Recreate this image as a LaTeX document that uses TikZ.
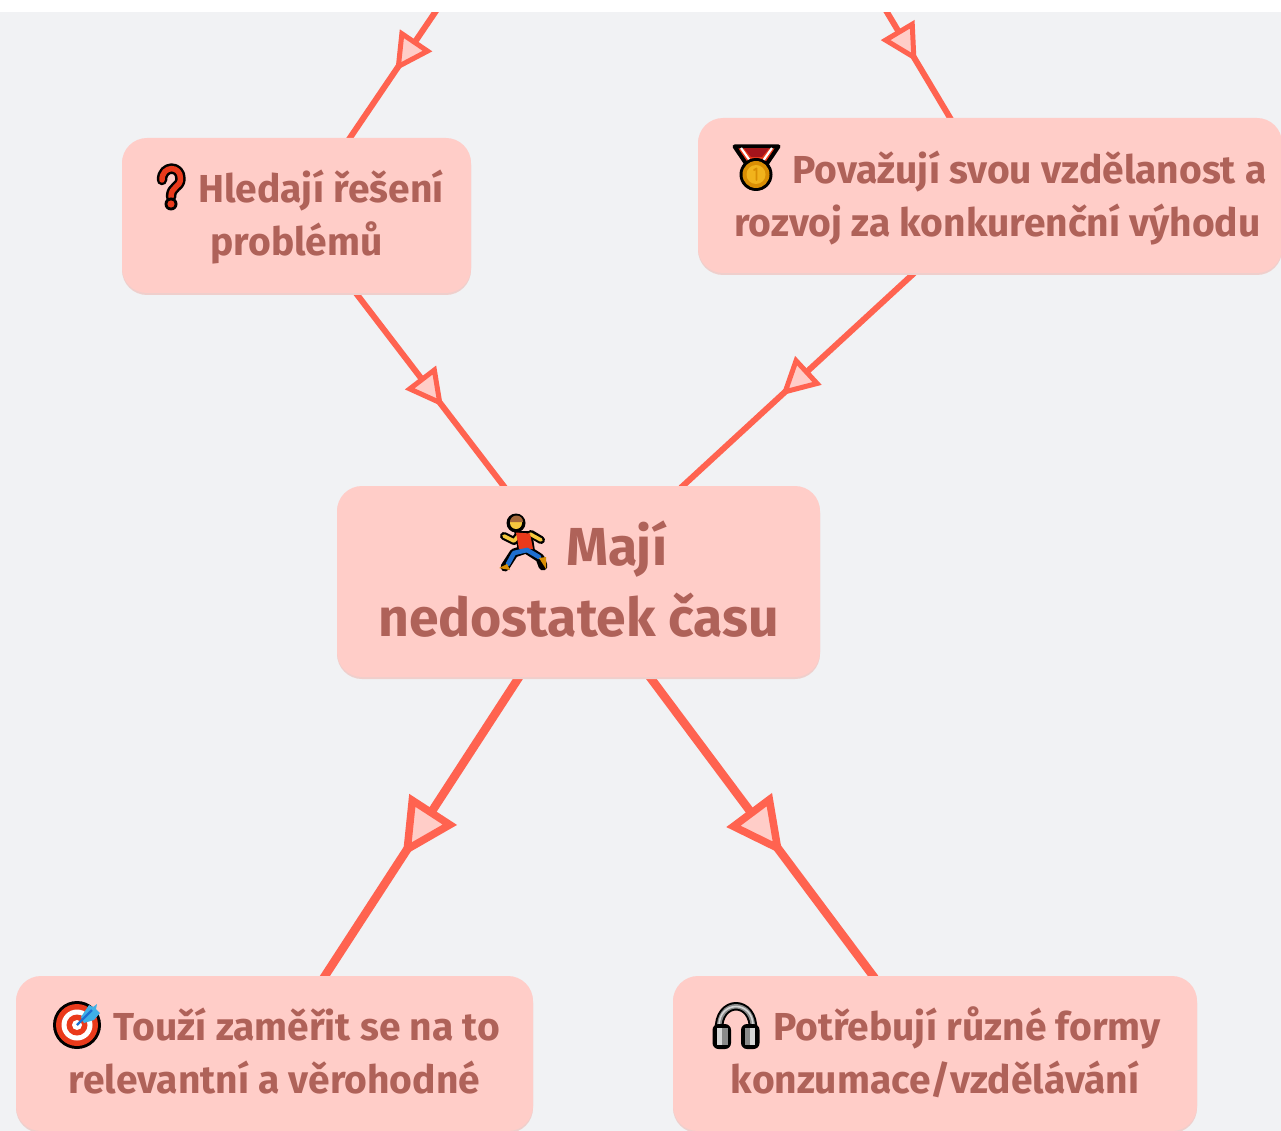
\documentclass[tikz,border=0pt]{standalone}
\usepackage{fontspec}
\setmainfont{Fira Sans}
\usetikzlibrary{arrows.meta,decorations.markings,shadows,calc}
\pgfdeclarelayer{bg}
\pgfsetlayers{bg,main}
\definecolor{bgc}{HTML}{F1F2F4}
\definecolor{boxc}{HTML}{FFCDC8}
\definecolor{linec}{HTML}{FF6350}
\definecolor{txtc}{HTML}{AF6259}
\definecolor{shc}{HTML}{EFCFCC}
\definecolor{emred}{HTML}{EA3A1B}
\definecolor{emdark}{HTML}{A5141B}
\definecolor{emgold}{HTML}{F1B31C}
\definecolor{emamber}{HTML}{D98E04}
\definecolor{emblue}{HTML}{1E6FD0}
\definecolor{emsky}{HTML}{3FB0E6}
\definecolor{emskin}{HTML}{F6C83E}
\definecolor{emhair}{HTML}{A5683A}
\definecolor{emgrey}{HTML}{8A8A8A}
\definecolor{emlight}{HTML}{D6D6D6}
\newcommand{\topstrut}[1]{\rule{0pt}{#1pt}}
\newcommand{\botstrut}[1]{\rule[-#1pt]{0pt}{#1pt}}
\tikzset{
 box/.style={fill=boxc,rounded corners=25pt,text=txtc,align=center,font=\bfseries\fontsize{39}{53}\selectfont,inner sep=0pt,
   copy shadow={shadow xshift=0pt,shadow yshift=-2pt,fill=shc,draw=none}},
 bigbox/.style={box,font=\bfseries\fontsize{53.5}{71}\selectfont},
 con/.style={draw=linec,line width=6pt,shorten >=-3pt,shorten <=-3pt},
 bigcon/.style={draw=linec,line width=8.5pt,shorten >=-3pt,shorten <=-3pt},
 midtip/.style={postaction={decorate},decoration={markings,mark=at position #1 with {\arrow{Triangle[length=37pt,width=38pt,fill=boxc,line width=5pt]}}}},
 bigmidtip/.style={postaction={decorate},decoration={markings,mark=at position #1 with {\arrow{Triangle[length=56pt,width=55pt,fill=boxc,line width=7.5pt]}}}},
 ink/.style={line cap=round,line join=round},
}
\begin{document}
\begin{tikzpicture}[x=1pt,y=-1pt]
\useasboundingbox (0,0) rectangle (1281,1131);
\coordinate (t1) at (438,8);
\coordinate (t2) at (884.5,8);
\node[box,minimum width=349pt,minimum height=155pt] (hl) at (296.5,215.5) {\topstrut{47}\hspace*{49pt}Hledají řešení\\problémů\botstrut{20}};
\node[box,minimum width=584pt,minimum height=155pt] (po) at (990,195.5) {\topstrut{50}\hspace*{79pt}Považují svou vzdělanost a\\\hspace*{15pt}rozvoj za konkurenční výhodu\botstrut{20}};
\node[bigbox,minimum width=483pt,minimum height=191pt] (ma) at (578.5,581.5) {\topstrut{58}\hspace*{77pt}Mají\\nedostatek času\botstrut{20}};
\node[box,minimum width=517pt,minimum height=155pt] (to) at (274.5,1053.5) {\topstrut{46}\hspace*{65pt}Touží zaměřit se na to\\relevantní a věrohodné\botstrut{20}};
\node[box,minimum width=524pt,minimum height=155pt] (pt) at (935,1053.5) {\topstrut{46}\hspace*{64pt}Potřebují různé formy\\konzumace/vzdělávání\botstrut{20}};
\begin{pgfonlayer}{bg}
\fill[bgc] (0,0) rectangle (1281,1131);
\draw[con,midtip=0.485] (t1) -- ([xshift=53.5pt]hl.north);
\draw[con,midtip=0.49] (t2) -- ([xshift=-40pt]po.north);
\draw[con,midtip=0.59] ([xshift=59.5pt]hl.south) -- ([xshift=-75pt]ma.north);
\draw[con,midtip=0.575] ([xshift=-76pt]po.south) -- ([xshift=104.5pt]ma.north);
\draw[bigcon,bigmidtip=0.60] ([xshift=-59.5pt]ma.south) -- ([xshift=50.5pt]to.north);
\draw[bigcon,bigmidtip=0.595] ([xshift=71.5pt]ma.south) -- ([xshift=-62pt]pt.north);
\end{pgfonlayer}
\fill[white] (0,0) rectangle (1281,12);
% question mark
\begin{scope}[ink]
\draw[black,line width=10.5pt] (162,180) .. controls (162,165) and (181,165) .. (180.5,179) .. controls (180,188) and (171,186) .. (171,197);
\draw[emred,line width=5.5pt] (162,180) .. controls (162,165) and (181,165) .. (180.5,179) .. controls (180,188) and (171,186) .. (171,197);
\fill[black] (171,204) circle (6.5pt);
\fill[emred] (171,204) circle (3.6pt);
\end{scope}
% medal
\begin{scope}[ink]
\draw[black,line width=4pt,fill=emred] (734.5,146.5) -- (778.5,146.5) -- (764,168) -- (749,168) -- cycle;
\fill[emdark] (744,148.5) -- (769,148.5) -- (762,157) -- (751,157) -- cycle;
\draw[white,line width=2.2pt,line cap=butt] (741,148) -- (753,165);
\draw[white,line width=2.2pt,line cap=butt] (772,148) -- (760,165);
\fill[black] (756,174.5) circle (16.5pt);
\fill[emamber] (756,174.5) circle (13.5pt);
\fill[emgold] (756,174.5) circle (9.5pt);
\draw[emamber,line width=1.8pt] (754,170) -- (756.5,168.5) -- (756.5,180);
\end{scope}
% runner
\begin{scope}[ink]
\draw[black,line width=8pt] (504,536) -- (514,541) -- (519,535);
\draw[black,line width=8pt] (531,534) -- (541,540);
\draw[black,line width=9pt] (526,549) -- (514,553) -- (505,567);
\draw[black,line width=9pt] (526,549) -- (540,558) -- (543,566);
\fill[black] (516,523) circle (9.5pt);
\fill[black] (514,531) -- (532,531) -- (535,551) -- (518,551) -- cycle;
\draw[emskin,line width=3.6pt] (504,536) -- (514,541) -- (519,535);
\draw[emskin,line width=3.6pt] (530,534) -- (541,540);
\fill[emred] (516,532.5) -- (530,533.5) -- (533,549) -- (519,549) -- cycle;
\draw[emblue,line width=4.6pt] (527,550) -- (514,553) -- (508,564);
\draw[emblue,line width=4.6pt] (527,550) -- (539,557);
\fill[emamber] (499,568) -- (507,564) -- (510,570) -- cycle;
\fill[emamber] (539,558) -- (546,557) -- (546,569) -- cycle;
\fill[emskin] (516,523) circle (6pt);
\fill[emhair] (510,522) arc[start angle=180,end angle=360,x radius=6.5pt,y radius=-6.5pt] -- cycle;
\end{scope}
% target
\begin{scope}
\fill[black] (77,1025) circle (24pt);
\fill[emred] (77,1025) circle (21pt);
\fill[white] (77,1025) circle (15.5pt);
\fill[emred] (77,1025) circle (10.5pt);
\fill[white] (77,1025) circle (5pt);
\fill[emsky] (81,1017) -- (89,1005) -- (93,1007) -- (97,1004) -- (96,1009) -- (100,1013) -- (94,1020) -- (84,1023) -- cycle;
\draw[emblue,line width=2.4pt] (77,1025) -- (92,1010);
\end{scope}
% headphones
\begin{scope}[ink]
\draw[black,line width=8.5pt] (719,1031) .. controls (717,998) and (755,998) .. (753,1031);
\draw[emgrey,line width=4.5pt] (719,1031) .. controls (717,998) and (755,998) .. (753,1031);
\draw[emlight,line width=1.6pt] (719,1026) .. controls (719,1000) and (753,1000) .. (753,1026);
\fill[black,rounded corners=6pt] (712.5,1024) rectangle (731,1049);
\fill[black,rounded corners=6pt] (741,1024) rectangle (759.5,1049);
\fill[emlight] (717,1028) rectangle (722,1045);
\fill[emgrey] (722,1028) rectangle (727.5,1045);
\fill[emgrey] (744.5,1028) rectangle (750,1045);
\fill[emlight] (750,1028) rectangle (755,1045);
\end{scope}
\end{tikzpicture}
\end{document}
